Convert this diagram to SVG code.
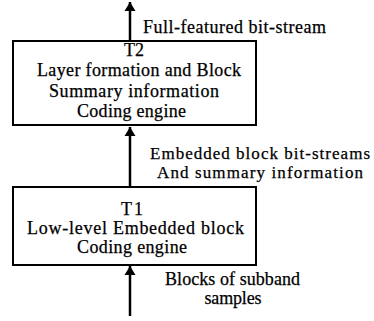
<svg xmlns="http://www.w3.org/2000/svg" width="374" height="321" viewBox="0 0 374 321">
<style>
text{font-family:"Liberation Serif","Times New Roman",serif;font-size:18px;fill:#000;stroke:#000;stroke-width:0.25}
.c{text-anchor:middle}
.s{font-size:17px}
.box{fill:#fff;stroke:#000;stroke-width:2}
.ln{stroke:#000;stroke-width:2.5;fill:none}
</style>
<defs>
<marker id="ah" markerWidth="12" markerHeight="12" refX="9" refY="6" orient="auto" markerUnits="userSpaceOnUse">
<path d="M0,0.5 L9,6 L0,11.5 z" fill="#000"/>
</marker>
</defs>
<rect width="374" height="321" fill="#fff"/>
<g id="connectors">
<line class="ln" x1="130" y1="41" x2="130" y2="2" marker-end="url(#ah)"/>
<line class="ln" x1="130" y1="187" x2="130" y2="127" marker-end="url(#ah)"/>
<line class="ln" x1="130" y1="316" x2="130" y2="266" marker-end="url(#ah)"/>
</g>
<g id="label-top"><text x="143" y="33" textLength="183" lengthAdjust="spacing">Full-featured bit-stream</text></g>
<g id="T2">
<rect class="box" x="13" y="41" width="243" height="84"/>
<text class="c" x="134" y="56">T2</text>
<text class="c" x="139" y="76" textLength="204" lengthAdjust="spacing">Layer formation and Block</text>
<text class="c" x="134" y="97" textLength="170" lengthAdjust="spacing">Summary information</text>
<text class="c" x="131.5" y="117" textLength="109" lengthAdjust="spacing">Coding engine</text>
</g>
<g id="label-mid">
<text class="c s" x="260" y="159" textLength="220" lengthAdjust="spacing">Embedded block bit-streams</text>
<text class="c s" x="260" y="178" textLength="206" lengthAdjust="spacing">And summary information</text>
</g>
<g id="T1">
<rect class="box" x="13" y="187" width="243" height="78"/>
<text class="c" x="132" y="215" textLength="22" lengthAdjust="spacing">T1</text>
<text class="c" x="135.5" y="234" textLength="217" lengthAdjust="spacing">Low-level Embedded block</text>
<text class="c" x="132" y="253" textLength="110" lengthAdjust="spacing">Coding engine</text>
</g>
<g id="label-bot">
<text class="c" x="232.5" y="285" textLength="135" lengthAdjust="spacing">Blocks of subband</text>
<text class="c" x="233" y="304" textLength="57" lengthAdjust="spacing">samples</text>
</g>
</svg>
